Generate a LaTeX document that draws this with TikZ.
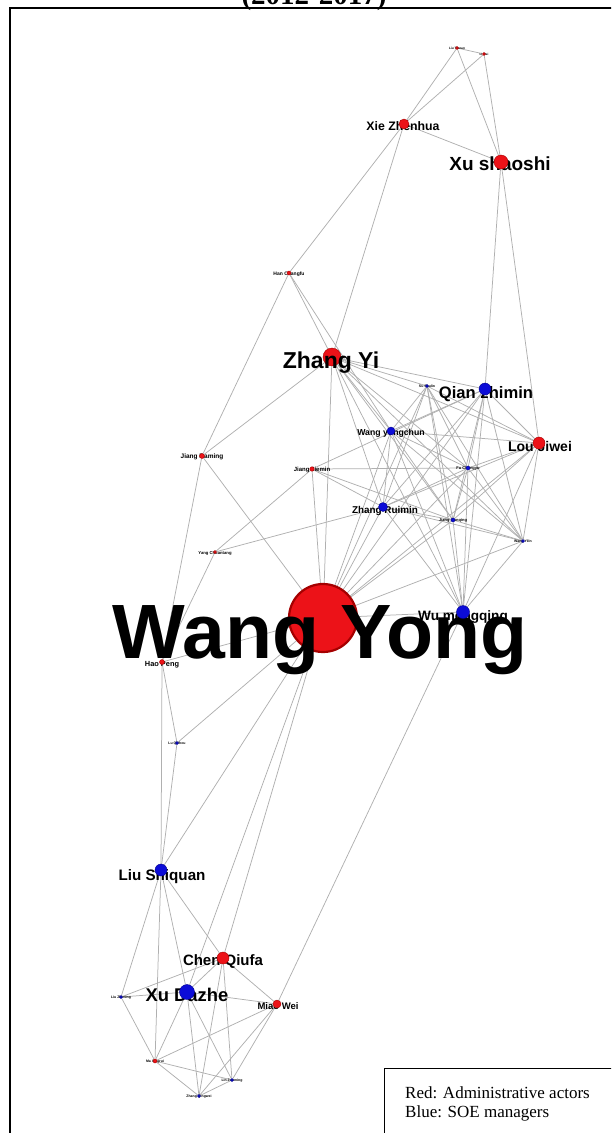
\documentclass[tikz,border=0pt]{standalone}
\usepackage{fontspec}
\setmainfont{Liberation Serif}
\newfontfamily\arialf{Liberation Sans}
\newcommand\fsz[1]{\arialf\bfseries\fontsize{#1}{#1}\selectfont}
\definecolor{nred}{RGB}{236,18,24}
\definecolor{nredd}{RGB}{165,0,0}
\definecolor{nblue}{RGB}{12,12,215}
\definecolor{nblued}{RGB}{0,0,140}
\definecolor{edgec}{RGB}{176,176,176}
\pgfdeclarelayer{bg}
\pgfsetlayers{bg,main}
\begin{document}
\begin{tikzpicture}[x=1pt,y=-1pt,
 rn/.style={circle,fill=nred,draw=nredd,line width=0.4pt,inner sep=0pt},
 bn/.style={circle,fill=nblue,draw=nblued,line width=0.4pt,inner sep=0pt},
 lab/.style={inner sep=0pt,anchor=base,text=black},
 ed/.style={draw=edgec,line width=0.75pt},
 frame/.style={draw=black,line width=1.6pt},
 legtext/.style={inner sep=0pt,anchor=base west,font=\fontsize{17}{17}\selectfont}]
\useasboundingbox (0,0) rectangle (611,1133);
\clip (0,0) rectangle (611,1133);

% frame and title
\draw[frame] (10,8) rectangle (640,1160);
\node[inner sep=0pt,anchor=base,font=\bfseries\fontsize{29}{29}\selectfont] (title) at (314,4) {(2012-2017)};

% big nodes below labels
\node[rn,minimum size=68pt,draw=nredd,line width=2.2pt] (wy) at (323,618) {};
\node[rn,minimum size=18pt] (zy) at (332,357) {};

% labels
\node[lab,font=\fsz{77}] (wyL) at (320,658) {Wang Yong};
\node[lab,font=\fsz{23}] (zyL) at (331,368) {Zhang Yi};
\node[lab,font=\fsz{19}] (xusL) at (500,170) {Xu shaoshi};
\node[lab,font=\fsz{16.6}] (qzL) at (486,398) {Qian zhimin};
\node[lab,font=\fsz{14}] (ljL) at (540,451) {Lou Jiwei};
\node[lab,font=\fsz{8.7}] (wycL) at (391,435) {Wang yongchun};
\node[lab,font=\fsz{9.9}] (zrL) at (385,513) {Zhang Ruimin};
\node[lab,font=\fsz{12.3}] (xieL) at (403,130) {Xie Zhenhua};
\node[lab,font=\fsz{13.6}] (wmL) at (463,620) {Wu mengqing};
\node[lab,font=\fsz{15.2}] (lsL) at (162,880) {Liu Shiquan};
\node[lab,font=\fsz{15}] (cqL) at (223,965) {Chen Qiufa};
\node[lab,font=\fsz{18.4}] (xdL) at (187,1001) {Xu Dazhe};
\node[lab,font=\fsz{9.5}] (mwL) at (278,1009) {Miao Wei};
\node[lab,font=\fsz{7.4}] (hpL) at (162,666) {Hao Peng};
\node[lab,font=\fsz{6}] (jjL) at (312,471) {Jiang Jiemin};
\node[lab,font=\fsz{6.5}] (jwL) at (202,458) {Jiang Daming};
\node[lab,font=\fsz{5}] (hanL) at (289,275) {Han Changfu};
\node[lab,font=\fsz{4.2}] (tongL) at (215,554) {Yang Chuantang};
\node[lab,font=\fsz{3.2}] (t1L) at (457,49.5) {Liu Tienan};
\node[lab,font=\fsz{3}] (t2L) at (484,55.5) {Li Wei};
\node[lab,font=\fsz{3.5}] (s1L) at (427,387.5) {Su Shulin};
\node[lab,font=\fsz{4}] (s2L) at (468,469.5) {Fu Chengyu};
\node[lab,font=\fsz{4}] (s3L) at (453,521.5) {Jiang Jianqing};
\node[lab,font=\fsz{3.5}] (s4L) at (523,542.5) {Wang Yilin};
\node[lab,font=\fsz{3.5}] (s5L) at (177,744.5) {Lu Qizhou};
\node[lab,font=\fsz{3.5}] (s6L) at (121,998.5) {Liu Zhiming};
\node[lab,font=\fsz{3.5}] (s7L) at (155,1062.5) {Ma Xingrui};
\node[lab,font=\fsz{3.5}] (s8L) at (232,1081.5) {Lin Zuoming};
\node[lab,font=\fsz{3.5}] (s9L) at (199,1097.5) {Zhang Qingwei};

% other nodes (above labels)
\node[rn,minimum size=3pt] (t1) at (457,48) {};
\node[rn,minimum size=3pt] (t2) at (484,54) {};
\node[rn,minimum size=10pt] (xie) at (404,124) {};
\node[rn,minimum size=14pt] (xus) at (501,162) {};
\node[rn,minimum size=4pt] (han) at (289,273) {};
\node[bn,minimum size=12pt] (qz) at (485,389) {};
\node[bn,minimum size=3pt] (s1) at (427,386) {};
\node[bn,minimum size=8pt] (wyc) at (391,431) {};
\node[rn,minimum size=12pt] (lj) at (539,443) {};
\node[rn,minimum size=4.5pt] (jj) at (312,469) {};
\node[bn,minimum size=4pt] (s2) at (468,468) {};
\node[rn,minimum size=5pt] (jw) at (202,456) {};
\node[bn,minimum size=9pt] (zr) at (383,507) {};
\node[bn,minimum size=4pt] (s3) at (453,520) {};
\node[bn,minimum size=3pt] (s4) at (523,541) {};
\node[rn,minimum size=3pt] (tong) at (215,552) {};
\node[bn,minimum size=13pt] (wm) at (463,612) {};
\node[rn,minimum size=5pt] (hp) at (162,662) {};
\node[bn,minimum size=3pt] (s5) at (177,743) {};
\node[bn,minimum size=12pt] (ls) at (161,870) {};
\node[rn,minimum size=12pt] (cq) at (223,958) {};
\node[bn,minimum size=15pt] (xd) at (187,992) {};
\node[bn,minimum size=3pt] (s6) at (121,997) {};
\node[rn,minimum size=8pt] (mw) at (277,1004) {};
\node[rn,minimum size=4pt] (s7) at (155,1061) {};
\node[bn,minimum size=3pt] (s8) at (232,1080) {};
\node[bn,minimum size=3pt] (s9) at (199,1096) {};

% edges
\begin{pgfonlayer}{bg}
\foreach \a/\b in {t1/t2,t1/xie,t2/xie,t1/xus,t2/xus,xie/xus,xie/han,xie/zy,
 xus/qz,xus/lj,han/zy,han/wyc,han/jw,jw/zy,jw/wy,jw/hp,
 tong/hp,tong/jj,tong/zr,
 zy/qz,zy/s1,zy/wyc,zy/zr,zy/s2,zy/s3,zy/s4,zy/wm,zy/wy,zy/lj,
 s1/wyc,s1/zr,s1/s3,s1/wm,s1/s2,s1/wy,s1/lj,s1/s4,
 qz/wyc,qz/jj,qz/zr,qz/s2,qz/s3,qz/s4,qz/lj,qz/wm,qz/wy,
 wyc/lj,wyc/s2,wyc/s3,wyc/s4,wyc/zr,wyc/wm,wyc/wy,
 lj/s2,lj/s3,lj/s4,lj/wm,lj/zr,lj/wy,
 jj/s2,jj/zr,jj/s3,jj/wy,
 s2/zr,s2/s3,s2/s4,s2/wm,s2/wy,
 zr/s3,zr/s4,zr/wm,zr/wy,
 s3/s4,s3/wm,s3/wy,s4/wm,s4/wy,
 wm/wy,wm/mw,
 hp/wy,hp/s5,hp/ls,s5/ls,s5/wy,
 ls/wy,ls/s6,ls/s7,ls/xd,ls/cq,
 wy/cq,wy/xd,
 cq/xd,cq/s6,cq/mw,cq/s8,cq/s9,
 xd/s6,xd/mw,xd/s7,xd/s9,xd/s8,
 mw/s7,mw/s9,mw/s8,
 s6/s7,s7/s9,s7/s8,s9/s8}
 \draw[ed] (\a) -- (\b);
\end{pgfonlayer}

% legend
\draw[line width=1pt] (384,1068) rectangle (640,1160);
\node[legtext] (leg1) at (405,1098) {Red: Administrative actors};
\node[legtext] (leg2) at (405,1117) {Blue: SOE managers};
\end{tikzpicture}
\end{document}
